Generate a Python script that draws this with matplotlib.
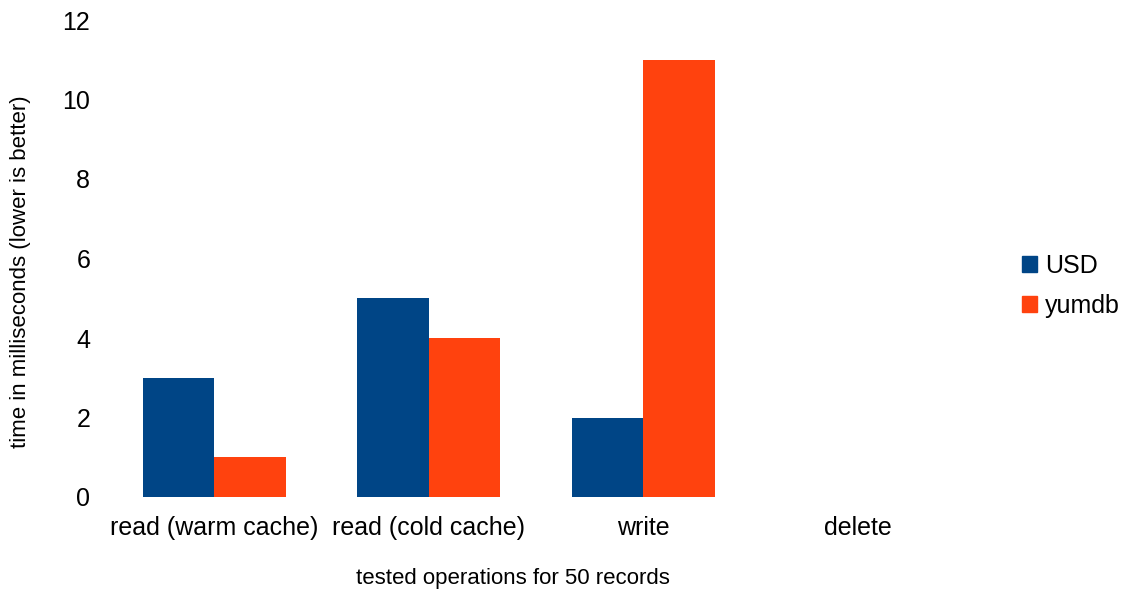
import matplotlib.pyplot as plt
import numpy as np
from matplotlib.patches import Patch

plt.rcParams['font.family'] = ['Liberation Sans', 'DejaVu Sans']

operations = ["read (warm cache)", "read (cold cache)", "write", "delete"]
usd_ms = [3, 5, 2, 0]
yumdb_ms = [1, 4, 11, 0]
series_names = ["USD", "yumdb"]
y_ticks = [0, 2, 4, 6, 8, 10, 12]

usd_color = "#004586"
yumdb_color = "#ff420e"

fig = plt.figure(figsize=(11.29, 5.94), dpi=100)
ax = fig.add_axes([107 / 1129, 1 - 497 / 594, (965 - 107) / 1129, (497 - 20) / 594])

x = np.arange(len(operations))
w = 1 / 3
ax.bar(x - w / 2, usd_ms, width=w, color=usd_color)
ax.bar(x + w / 2, yumdb_ms, width=w, color=yumdb_color)

ax.set_xlim(-0.5, len(operations) - 0.5)
ax.set_ylim(0, 12)
ax.set_yticks(y_ticks)
ax.set_yticklabels([str(t) for t in y_ticks], fontsize=18)
ax.set_xticks(x)
ax.set_xticklabels(operations, fontsize=18)
ax.tick_params(axis='both', length=0)
ax.tick_params(axis='y', pad=12)
ax.tick_params(axis='x', pad=14)
for s in ax.spines.values():
    s.set_visible(False)

ax.set_xlabel("tested operations for 50 records", fontsize=16)
ax.set_ylabel("time in milliseconds (lower is better)", fontsize=16)
# label placement in axes fraction
ax.xaxis.set_label_coords((513 - 107) / 858, (497 - 568) / 477)
ax.yaxis.set_label_coords((31 - 107) / 858, (497 - 272) / 477)

handles = [Patch(color=usd_color), Patch(color=yumdb_color)]
fig.legend(handles, series_names, loc='center left', bbox_to_anchor=(999 / 1129, 1 - 286 / 594),
           frameon=False, fontsize=18, handlelength=0.6, handleheight=0.6,
           handletextpad=0.35, labelspacing=0.65)

fig.savefig("out.png", dpi=100)
